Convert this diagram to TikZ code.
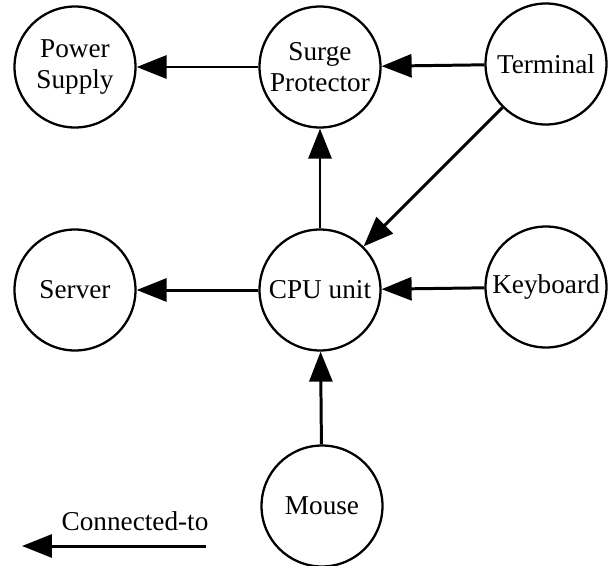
\documentclass[tikz,border=0pt]{standalone}
\usepackage{fontspec}
\setmainfont{Liberation Serif}
\usetikzlibrary{arrows.meta,positioning}

\begin{document}
\begin{tikzpicture}[
  x=0.02cm, y=-0.02cm,
  unit/.style={draw, circle, line width=1.3pt, minimum size=2.42cm,
               inner sep=0pt, align=center, font=\fontsize{15.5}{17.5}\selectfont},
  link/.style={-{Triangle[length=0.6cm, width=0.46cm]}, line width=1.7pt}
]
\useasboundingbox (0,0) rectangle (608,565);

\node[unit] (power) at (75,67)  {Power\\Supply};
\node[unit] (surge) at (320,67) {Surge\\Protector};
\node[unit] (term)  at (546,64) {Terminal};

\node[unit] (server) at (75,290)  {Server};
\node[unit] (cpu)    at (320,290) {CPU unit};
\node[unit] (keyb)   at (546,287) {Keyboard};

\node[unit] (mouse) at (322,506) {Mouse};

\draw[link] (surge) -- (power);
\draw[link] (term) -- (surge);
\draw[link] (term) -- (cpu);
\draw[link] (cpu) -- (surge);
\draw[link] (cpu) -- (server);
\draw[link] (keyb) -- (cpu);
\draw[link] (mouse) -- (cpu);

% legend
\coordinate (legstart) at (206,546);
\coordinate (legend) at (22,546);
\draw[link] (legstart) -- (legend);
\node[font=\fontsize{15.5}{17.5}\selectfont] (legtext) at (135,521) {Connected-to};

\end{tikzpicture}
\end{document}
